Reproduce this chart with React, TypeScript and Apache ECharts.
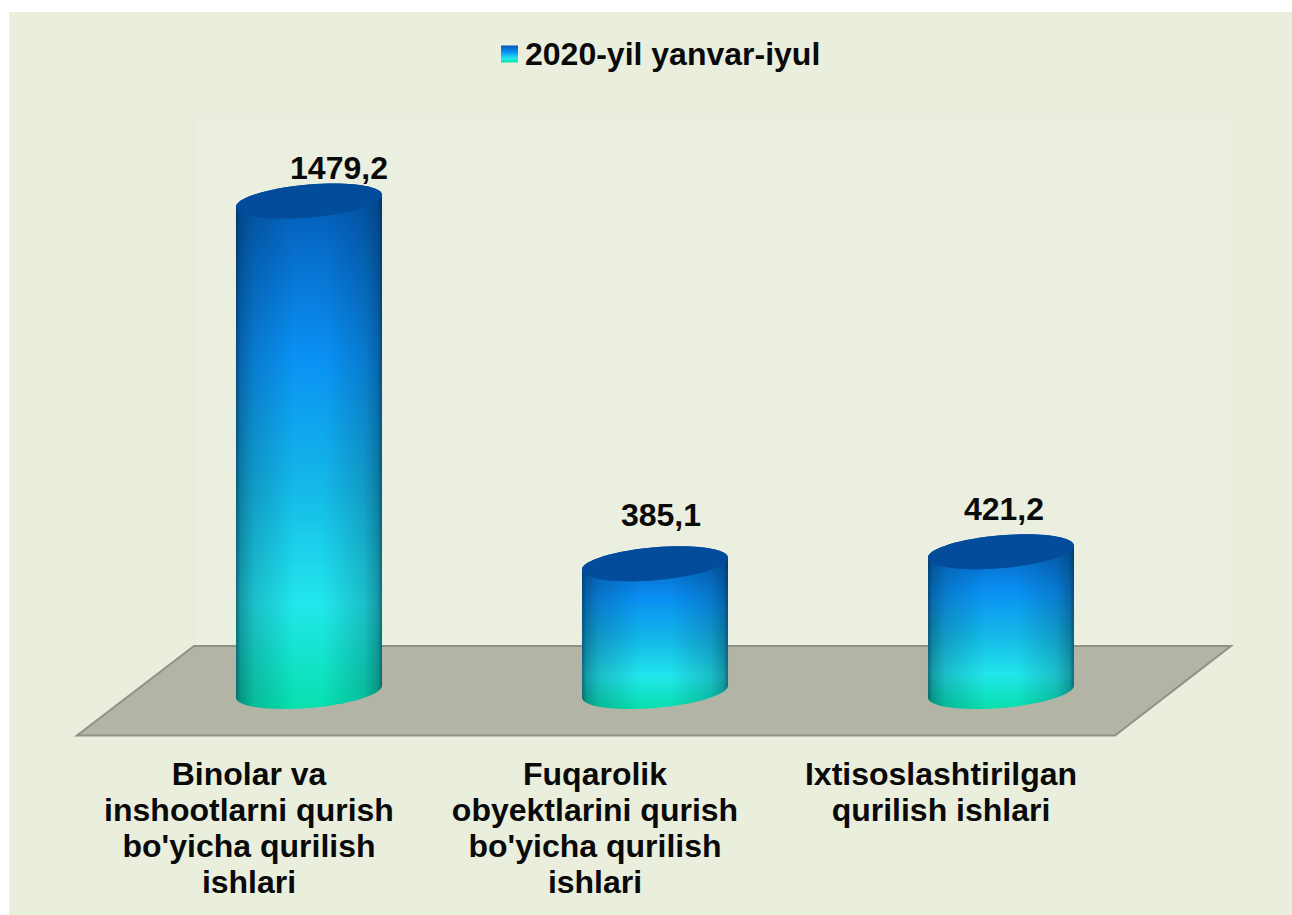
import React, { useEffect, useRef } from "react";
import * as echarts from "echarts";

const categories = [
  "Binolar va\ninshootlarni qurish\nbo'yicha qurilish\nishlari",
  "Fuqarolik\nobyektlarini qurish\nbo'yicha qurilish\nishlari",
  "Ixtisoslashtirilgan\nqurilish ishlari",
];
const seriesName = "2020-yil yanvar-iyul";
const values = [1479.2, 385.1, 421.2];
const labelNudgeX = [30, 6, 3];
const labelNudgeY = [-33, -49, -43];

const FONT = '"Liberation Sans", Arial, sans-serif';
const K = 0.5523;

function bodyGradient() {
  return new echarts.graphic.LinearGradient(0, 0, 0, 1, [
    { offset: 0, color: "#0358B4" },
    { offset: 0.33, color: "#0A92F6" },
    { offset: 0.58, color: "#14BAEA" },
    { offset: 0.8, color: "#22E8EE" },
    { offset: 1, color: "#06E2AE" },
  ]);
}
function edgeShade() {
  const c = (a: number) => `rgba(0,28,50,${a})`;
  return new echarts.graphic.LinearGradient(0, 0, 1, 0, [
    { offset: 0, color: c(0.6) },
    { offset: 0.03, color: c(0.38) },
    { offset: 0.12, color: c(0.2) },
    { offset: 0.4, color: c(0.01) },
    { offset: 0.6, color: c(0.01) },
    { offset: 0.88, color: c(0.2) },
    { offset: 0.97, color: c(0.38) },
    { offset: 1, color: c(0.6) },
  ]);
}

function renderItem(params: any, api: any) {
  const idx = api.value(0);
  const val = api.value(1);
  const top = api.coord([idx, val]);
  const base = api.coord([idx, 0]);
  const a = api.size([1, 0])[0] * 0.211;
  const b = 16.5;
  const s = 6;
  const cx = top[0];
  const p = (cy: number, u: number, v: number) =>
    `${(cx + a * u).toFixed(2)} ${(cy + b * v - s * u).toFixed(2)}`;
  const body =
    `M${p(top[1], -1, 0)} L${p(base[1], -1, 0)} ` +
    `C${p(base[1], -1, K)} ${p(base[1], -K, 1)} ${p(base[1], 0, 1)} ` +
    `C${p(base[1], K, 1)} ${p(base[1], 1, K)} ${p(base[1], 1, 0)} ` +
    `L${p(top[1], 1, 0)} ` +
    `C${p(top[1], 1, -K)} ${p(top[1], K, -1)} ${p(top[1], 0, -1)} ` +
    `C${p(top[1], -K, -1)} ${p(top[1], -1, -K)} ${p(top[1], -1, 0)} Z`;
  const lid =
    `M${p(top[1], -1, 0)} ` +
    `C${p(top[1], -1, -K)} ${p(top[1], -K, -1)} ${p(top[1], 0, -1)} ` +
    `C${p(top[1], K, -1)} ${p(top[1], 1, -K)} ${p(top[1], 1, 0)} ` +
    `C${p(top[1], 1, K)} ${p(top[1], K, 1)} ${p(top[1], 0, 1)} ` +
    `C${p(top[1], -K, 1)} ${p(top[1], -1, K)} ${p(top[1], -1, 0)} Z`;
  return {
    type: "group",
    children: [
      { type: "path", shape: { pathData: body }, style: { fill: bodyGradient() } },
      { type: "path", shape: { pathData: body }, style: { fill: edgeShade() } },
      { type: "path", shape: { pathData: lid }, style: { fill: "#034C9C" } },
      {
        type: "text",
        style: {
          text: String(val).replace(".", ","),
          x: cx + labelNudgeX[idx],
          y: top[1] + labelNudgeY[idx],
          align: "center",
          verticalAlign: "middle",
          font: `bold 32px ${FONT}`,
          fill: "#0a0a0a",
        },
      },
    ],
  };
}

export default function App() {
  const ref = useRef<HTMLDivElement>(null);
  useEffect(() => {
    document.body.style.margin = "0";
    const chart = echarts.init(ref.current!, undefined, { renderer: "svg" });
    chart.setOption({
      animation: false,
      backgroundColor: "#ffffff",
      graphic: [
        {
          type: "rect",
          z: -10,
          shape: { x: 9, y: 12, width: 1283, height: 903 },
          style: { fill: "#EAEEDD" },
        },
        {
          type: "rect",
          z: -9,
          shape: { x: 195, y: 115, width: 1037, height: 531 },
          style: { fill: "#EBEFDF", stroke: "#E7EBDA", lineWidth: 1 },
        },
        {
          type: "polygon",
          z: -8,
          shape: { points: [[194, 646], [1231, 646], [1115, 735.5], [77, 735.5]] },
          style: { fill: "#B2B4A6", stroke: "#8F918A", lineWidth: 2 },
        },
      ],
      legend: {
        left: 496,
        top: 33,
        itemWidth: 17,
        itemHeight: 17,
        itemGap: 0,
        selectedMode: false,
        data: [
          {
            name: seriesName,
            icon: "rect",
            itemStyle: {
              color: new echarts.graphic.LinearGradient(0, 0, 0, 1, [
                { offset: 0, color: "#0358B4" },
                { offset: 0.4, color: "#0A92F6" },
                { offset: 0.75, color: "#22E8EE" },
                { offset: 1, color: "#06E2AE" },
              ]),
            },
          },
        ],
        textStyle: { fontFamily: FONT, fontWeight: "bold", fontSize: 32, color: "#0a0a0a", padding: [0, 0, 0, 2] },
      },
      grid: { left: 136, width: 1038, top: 161, height: 530.5 },
      xAxis: {
        type: "category",
        data: categories,
        axisLine: { show: false },
        axisTick: { show: false },
        axisLabel: {
          interval: 0,
          margin: 64,
          padding: [0, 120, 0, 0],
          fontFamily: FONT,
          fontWeight: "bold",
          fontSize: 32,
          lineHeight: 36,
          color: "#0a0a0a",
        },
      },
      yAxis: { type: "value", min: 0, max: 1600, interval: 400, show: false },
      series: [
        {
          type: "custom",
          name: seriesName,
          renderItem,
          encode: { x: 0, y: 1 },
          data: values.map((v, i) => [i, v]),
          clip: false,
        },
      ],
    });
    return () => chart.dispose();
  }, []);
  return <div ref={ref} style={{ position: "absolute", left: 0, top: 0, width: 1292, height: 915 }} />;
}
